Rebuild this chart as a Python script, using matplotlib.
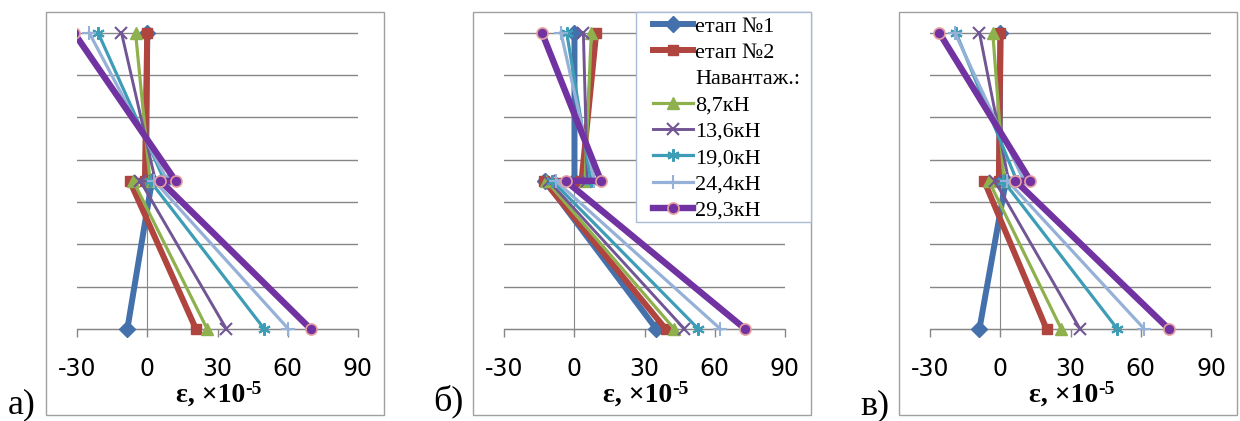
import matplotlib
matplotlib.use("Agg")
import matplotlib.pyplot as plt
from matplotlib.lines import Line2D
from matplotlib.patches import Rectangle

plt.rcParams["axes.unicode_minus"] = False

W, H = 1240, 421

series_names = ["етап №1", "етап №2", "8,7кН", "13,6кН", "19,0кН", "24,4кН", "29,3кН"]
depth = [7, 3.5, 3.5, 0]          # top, interface (upper layer), interface (lower layer), bottom
x_ticks = [-30, 0, 30, 60, 90]

# strain values, x10^-5, per series: top, interface upper, interface lower, bottom
strain_a = [
    [0, -0.5, 2.0, -8.5],
    [0, -1.0, -7.5, 20.8],
    [-5.0, 1.2, -6.0, 25.6],
    [-11.0, 3.5, -3.0, 33.8],
    [-21.0, 7.4, 1.2, 50.0],
    [-24.8, 8.7, 3.0, 60.3],
    [-31.3, 12.1, 5.6, 69.8],
]
strain_b = [
    [0, 0, -12.5, 35.0],
    [9.3, 3.0, -13.0, 39.0],
    [7.2, 4.5, -12.0, 42.7],
    [3.8, 5.5, -11.0, 47.0],
    [-3.3, 7.0, -9.5, 53.0],
    [-5.8, 8.5, -8.0, 62.4],
    [-13.9, 11.3, -3.8, 73.0],
]
strain_c = [
    [0, -0.5, 2.3, -9.0],
    [0, -0.7, -7.0, 19.7],
    [-3.3, 1.5, -5.0, 26.0],
    [-9.0, 3.5, -2.4, 34.0],
    [-19.0, 7.0, 1.2, 50.0],
    [-19.5, 10.0, 3.0, 61.5],
    [-26.2, 12.8, 6.4, 72.0],
]

GRID = "#868686"
styles = [
    dict(color="#4470AC", lw=4.3, marker="D", ms=8),
    dict(color="#B0443F", lw=4.3, marker="s", ms=7),
    dict(color="#8EB14E", lw=2.3, marker="^", ms=8),
    dict(color="#715594", lw=2.1, marker="x", ms=8, mew=1.5),
    dict(color="#3D9DB6", lw=2.3, marker=(6, 2, 0), ms=9, mew=1.5),
    dict(color="#96B1D8", lw=2.3, marker="+", ms=10, mew=1.5),
    dict(color="#7233A2", lw=4.6, marker="o", ms=8, mec="#E6A0A0", mew=1.2),
]


def fx(px):
    return px / W


def fy(py):
    return 1 - py / H


fig = plt.figure(figsize=(W / 100, H / 100), dpi=100)
fig.patch.set_facecolor("white")

# pixel layout: outer box, x pixel of -30 and 90, panel letter
panels = [
    (strain_a, (46, 12, 384, 415), (77, 358), "а)", (8, 413)),
    (strain_b, (473, 12, 811, 415), (504.3, 785), "б)", (433, 410)),
    (strain_c, (899, 12, 1237, 415), (930.3, 1211), "в)", (860, 414)),
]
y_top, y_bot = 32.7, 329
unit = (y_bot - y_top) / 7
pad_u = 0.35

axes = []
for data, box, (x0, x1), letter, (lx, ly) in panels:
    ax = fig.add_axes([fx(x0), fy(y_bot + pad_u * unit), fx(x1) - fx(x0),
                       (7 + 2 * pad_u) * unit / H])
    ax.set_xlim(-30, 90)
    ax.set_ylim(-pad_u, 7 + pad_u)
    ax.patch.set_alpha(0)
    for s in ("top", "right"):
        ax.spines[s].set_visible(False)
    ax.spines["bottom"].set_position(("data", 0))
    ax.spines["left"].set_position(("data", 0))
    ax.spines["left"].set_bounds(0, 7)
    for s in ("bottom", "left"):
        ax.spines[s].set_color(GRID)
        ax.spines[s].set_zorder(0.6)
    ax.set_yticks(range(8))
    ax.tick_params(axis="y", length=0, labelleft=False)
    ax.grid(axis="y", color=GRID, lw=1)
    ax.set_axisbelow(True)
    ax.set_xticks(x_ticks)
    ax.tick_params(axis="x", direction="out", length=5.8, width=1, color=GRID,
                   labelsize=17, pad=14.5)

    lines = []
    for vals, st in zip(data, styles):
        ln, = ax.plot(vals, depth, zorder=3, **st)
        lines.append(ln)
    axes.append((ax, lines))

    fig.add_artist(Rectangle((fx(box[0]), fy(box[3])), fx(box[2]) - fx(box[0]),
                             fy(box[1]) - fy(box[3]), transform=fig.transFigure,
                             fill=False, ec="#A0A0A0", lw=1))
    fig.text(fx(lx), fy(ly), letter, family="Liberation Serif", size=26,
             ha="left", va="baseline")
    cx = (x0 + x1) / 2
    fig.text(fx(cx + 28), fy(402), "ε, ×10", family="Liberation Serif",
             weight="bold", size=20, ha="right", va="baseline")
    fig.text(fx(cx + 28), fy(394), "-5", family="Liberation Serif",
             weight="bold", size=14, ha="left", va="baseline")

# legend of panel b
fig.add_artist(Rectangle((fx(635.7), fy(221.7)), fx(811) - fx(635.7),
                         fy(12) - fy(221.7), transform=fig.transFigure,
                         fc="white", ec="#A9BCD6", lw=1))
lines_b = axes[1][1]
handles = lines_b[:2] + [Line2D([], [], color="none")] + lines_b[2:]
labels = series_names[:2] + ["Навантаж.:"] + series_names[2:]
leg = fig.legend(handles, labels, loc="upper left",
                 bbox_to_anchor=(fx(653), fy(16)), bbox_transform=fig.transFigure,
                 frameon=False, borderpad=0, borderaxespad=0, handlelength=1.8,
                 handletextpad=0.1, labelspacing=0.26,
                 prop=dict(family="Liberation Serif", size=16))

fig.savefig("out.png", dpi=100, facecolor="white")
